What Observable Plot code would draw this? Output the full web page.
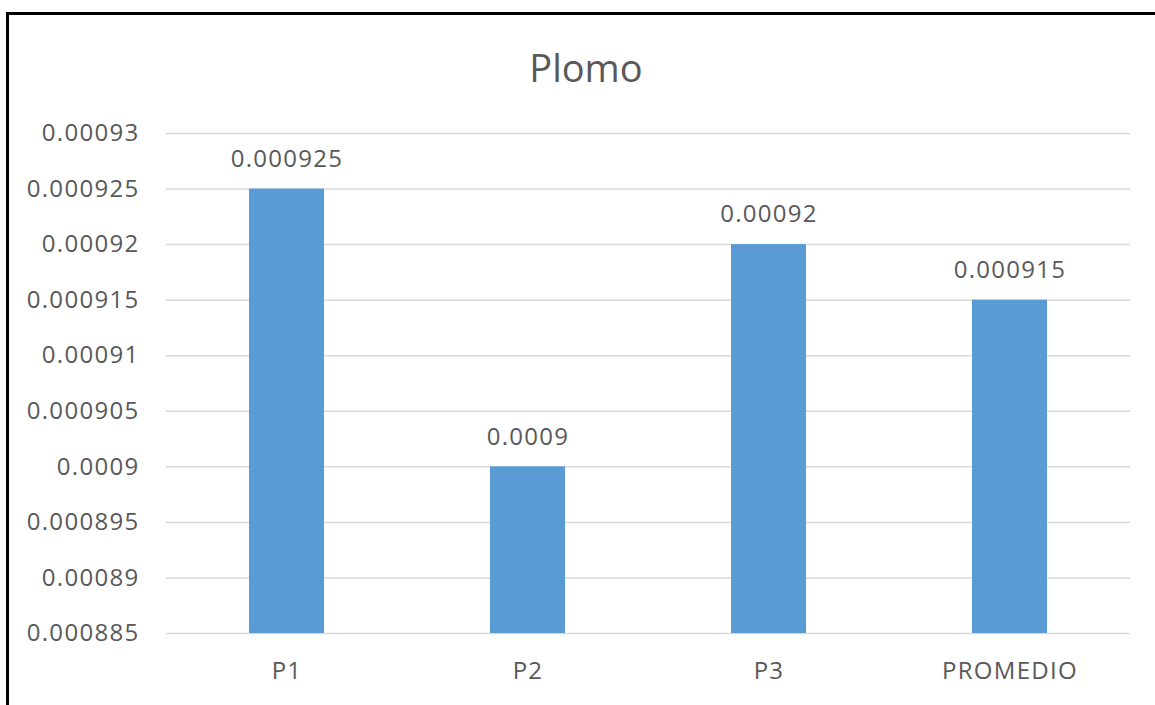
<!DOCTYPE html>
<html>
<head>
<meta charset="utf-8">
<script src="https://cdn.jsdelivr.net/npm/d3@7"></script>
<script src="https://cdn.jsdelivr.net/npm/@observablehq/plot@0.6"></script>
<style>
  html, body { margin: 0; padding: 0; background: #fff; }
  body { width: 1155px; height: 705px; position: relative; overflow: hidden; font-family: "Open Sans", sans-serif; }
  #frame { position: absolute; left: 6px; top: 12px; width: 1200px; height: 760px;
           border-left: 3px solid #000; border-top: 3px solid #000; }
  #title { position: absolute; left: 0; width: 1172px; top: 44px; text-align: center;
           font-size: 38px; color: #595959; line-height: 46px; }
  #chart { position: absolute; left: 0; top: 100px; }
  #chart svg text { letter-spacing: 1.3px; }
</style>
</head>
<body>
<div id="frame"></div>
<div id="title">Plomo</div>
<div id="chart"></div>
<script>
// Lead concentration per sampling point and the average
const categories = ["P1", "P2", "P3", "PROMEDIO"];
const values = [0.000925, 0.0009, 0.00092, 0.000915];
const yTicks = [0.000885, 0.00089, 0.000895, 0.0009, 0.000905, 0.00091, 0.000915, 0.00092, 0.000925, 0.00093];
const yMin = 0.000885;
const yMax = 0.00093;

const data = categories.map((c, i) => ({cat: c, v: values[i]}));
const grey = "#595959";

const chart = Plot.plot({
  width: 1155,
  height: 605,
  marginTop: 33,
  marginBottom: 72,
  marginLeft: 166,
  marginRight: 25,
  style: {fontFamily: "Open Sans, sans-serif", fontSize: "24px", color: grey, background: "transparent"},
  x: {domain: categories, paddingInner: 0.69, paddingOuter: 0.345, label: null, tickSize: 0, tickPadding: 28},
  y: {domain: [yMin, yMax], ticks: yTicks, tickFormat: d => String(d), label: null, tickSize: 0, tickPadding: 27},
  marks: [
    Plot.ruleY(yTicks, {stroke: "#d9d9d9", strokeWidth: 1.5}),
    Plot.barY(data, {x: "cat", y1: yMin, y2: "v", fill: "#5b9bd5"}),
    Plot.text(data, {x: "cat", y: "v", text: d => String(d.v), dy: -30, fill: grey, fontSize: 24})
  ]
});
document.getElementById("chart").appendChild(chart);
</script>
</body>
</html>
